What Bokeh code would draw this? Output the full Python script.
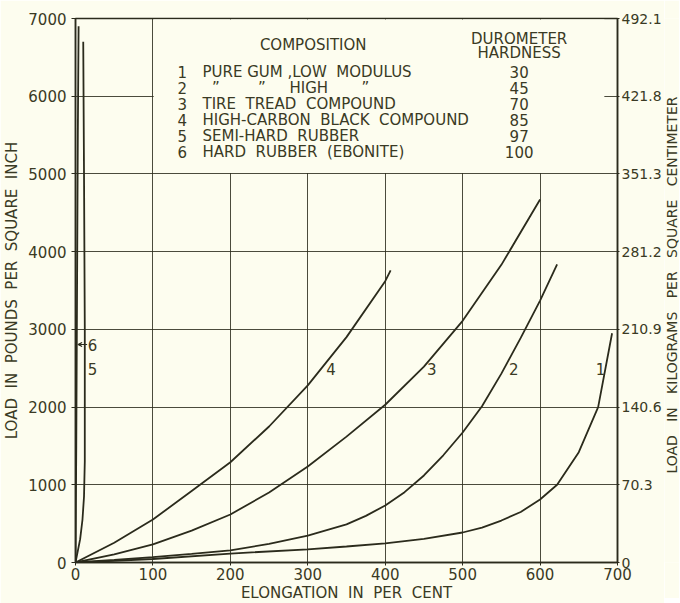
import math
from bokeh.plotting import figure
from bokeh.layouts import row
from bokeh.models import Range1d, LinearAxis, FixedTicker, Arrow, VeeHead
from bokeh.embed import file_html
from bokeh.resources import INLINE
from bokeh.core.properties import value

# ---------------- data ----------------
x_ticks = [0, 100, 200, 300, 400, 500, 600, 700]
y_ticks = [0, 1000, 2000, 3000, 4000, 5000, 6000, 7000]
kg_labels = ["0", "70.3", "140.6", "210.9", "281.2", "351.3", "421.8", "492.1"]

# 1 pure gum, low modulus
elong_1 = [0, 50, 100, 200, 300, 350, 400, 450, 500, 525, 550, 575, 600, 622, 650, 675, 693]
load_1 = [0, 20, 45, 115, 170, 206, 245, 305, 386, 450, 540, 650, 811, 1000, 1420, 2000, 2950]
# 2 pure gum, high modulus
elong_2 = [0, 50, 100, 150, 200, 250, 300, 350, 375, 400, 425, 450, 475, 500, 525, 550, 575, 600, 622]
load_2 = [0, 32, 70, 110, 155, 240, 347, 490, 600, 734, 905, 1120, 1380, 1673, 2010, 2430, 2890, 3370, 3835]
# 3 tire tread compound
elong_3 = [0, 50, 100, 150, 200, 250, 300, 350, 400, 450, 500, 550, 600]
load_3 = [0, 105, 232, 410, 618, 900, 1236, 1620, 2030, 2520, 3110, 3830, 4672]
# 4 high-carbon black compound
elong_4 = [0, 50, 100, 150, 200, 250, 300, 350, 400, 407]
load_4 = [0, 255, 553, 920, 1290, 1750, 2280, 2900, 3620, 3760]
# 5 semi-hard rubber
elong_5 = [0, 3, 6, 9, 11, 12, 12, 11, 10]
load_5 = [0, 150, 300, 550, 850, 1300, 3000, 5000, 6700]
# 6 hard rubber (ebonite)
elong_6 = [0, 1, 2, 3, 4]
load_6 = [0, 1500, 3500, 5500, 6900]

NB = "\u00a0"
curve_ids = ["1", "2", "3", "4", "5", "6"]
compositions = [
    "PURE GUM ,LOW" + NB + " MODULUS",
    NB * 2 + "\u201d" + NB * 8 + "\u201d" + NB * 5 + "HIGH" + NB * 7 + "\u201d",
    "TIRE" + NB + " TREAD" + NB + " COMPOUND",
    "HIGH-CARBON" + NB + " BLACK" + NB + " COMPOUND",
    "SEMI-HARD" + NB + " RUBBER",
    "HARD" + NB + " RUBBER" + NB + " (EBONITE)",
]
hardness = ["30", "45", "70", "85", "97", "100"]
GAP = NB * 2 + " "
right_title = ("LOAD" + GAP + "IN" + GAP + "KILOGRAMS" + GAP + "PER"
               + GAP + "SQUARE" + GAP + "CENTIMETER")

# curve-label placement
label_x = [678, 566, 460, 330, 22, 22]
label_y = [2484, 2484, 2484, 2484, 2484, 2805]

# ---------------- style ----------------
BG = "#FDFDEF"
INK = "#2B2B1C"
TXT = "#3A3A24"
FONT = "DejaVu Sans"

p = figure(frame_width=542, frame_height=544,
           x_range=Range1d(0, 700), y_range=Range1d(0, 7000),
           output_backend="svg", toolbar_location=None,
           min_border_left=71, min_border_right=44,
           min_border_top=18, min_border_bottom=36,
           background_fill_color=BG, border_fill_color=BG)

p.outline_line_color = INK
p.outline_line_width = 1.5

# grid
p.xgrid.ticker = FixedTicker(ticks=x_ticks[1:-1])
p.ygrid.ticker = FixedTicker(ticks=y_ticks[1:-1])
p.grid.grid_line_color = INK
p.grid.grid_line_alpha = 0.85
p.grid.grid_line_width = 1

# axes
p.xaxis.ticker = FixedTicker(ticks=x_ticks)
p.yaxis.ticker = FixedTicker(ticks=y_ticks)
p.xaxis.axis_label = "ELONGATION" + NB + " IN" + NB + " PER" + NB + " CENT"
p.yaxis.axis_label = ("LOAD" + NB + " IN" + NB + " POUNDS" + NB + " PER" + NB
                      + " SQUARE" + NB + " INCH")

right = LinearAxis(ticker=FixedTicker(ticks=y_ticks),
                   major_label_overrides={t: s for t, s in zip(y_ticks, kg_labels)})
p.add_layout(right, "right")

for ax in [p.xaxis[0], p.yaxis[0], right]:
    ax.axis_line_color = INK
    ax.axis_line_width = 1.5
    ax.major_tick_line_color = INK
    ax.major_tick_in = 0
    ax.major_tick_out = 4
    ax.minor_tick_line_color = None
    ax.major_label_text_font = FONT
    ax.major_label_text_font_size = "15px"
    ax.major_label_text_color = TXT
    ax.axis_label_text_font = FONT
    ax.axis_label_text_font_size = "15px"
    ax.axis_label_text_font_style = "normal"
    ax.axis_label_text_color = TXT

p.xaxis[0].major_tick_out = 3
p.xaxis[0].major_label_standoff = 2
p.xaxis[0].axis_label_standoff = 1
p.yaxis[0].major_label_standoff = 5
p.yaxis[0].axis_label_standoff = 4
right.major_tick_out = 2
right.major_label_standoff = 2
right.major_label_text_font_size = "14px"

# blank area behind the legend table
p.quad(left=101, right=683, bottom=5012, top=6988,
       fill_color=BG, line_color=None)

# curves
for xs, ys in [(elong_1, load_1), (elong_2, load_2), (elong_3, load_3),
               (elong_4, load_4), (elong_5, load_5), (elong_6, load_6)]:
    p.line(xs, ys, line_color=INK, line_width=1.8)

# curve labels
p.text(x=label_x, y=label_y, text=curve_ids, text_font=value(FONT),
       text_font_size="15px", text_color=TXT,
       text_align="center", text_baseline="middle")
p.add_layout(Arrow(end=VeeHead(size=4, line_color=INK, fill_color=INK),
                   x_start=15, y_start=2805, x_end=3, y_end=2805,
                   line_color=INK, line_width=1))

# legend table
row_y = [6306 - 206 * i for i in range(len(curve_ids))]
tkw = dict(text_font=value(FONT), text_font_size="15px", text_color=TXT,
           text_baseline="middle")
p.text(x=[138] * 6, y=row_y, text=curve_ids, text_align="center", **tkw)
p.text(x=[164] * 6, y=row_y, text=compositions, text_align="left", **tkw)
p.text(x=[573] * 6, y=row_y, text=hardness, text_align="center", **tkw)
p.text(x=[307, 573, 573], y=[6654, 6731, 6551],
       text=["COMPOSITION", "DUROMETER", "HARDNESS"], text_align="center", **tkw)

# narrow strip holding the right-hand axis title (reads bottom to top)
q = figure(frame_width=15, frame_height=544,
           x_range=Range1d(0, 1), y_range=Range1d(0, 1),
           x_axis_type=None, y_axis_type=None,
           output_backend="svg", toolbar_location=None,
           min_border_left=0, min_border_right=0,
           min_border_top=18, min_border_bottom=36,
           background_fill_color=BG, border_fill_color=BG)
q.grid.visible = False
q.outline_line_color = None
q.text(x=[0.5], y=[0.51], text=[right_title], angle=math.pi / 2,
       text_font=value(FONT), text_font_size="14px", text_color=TXT,
       text_align="center", text_baseline="middle")

layout = row(p, q)
open("out.html", "w").write(file_html(layout, INLINE))
